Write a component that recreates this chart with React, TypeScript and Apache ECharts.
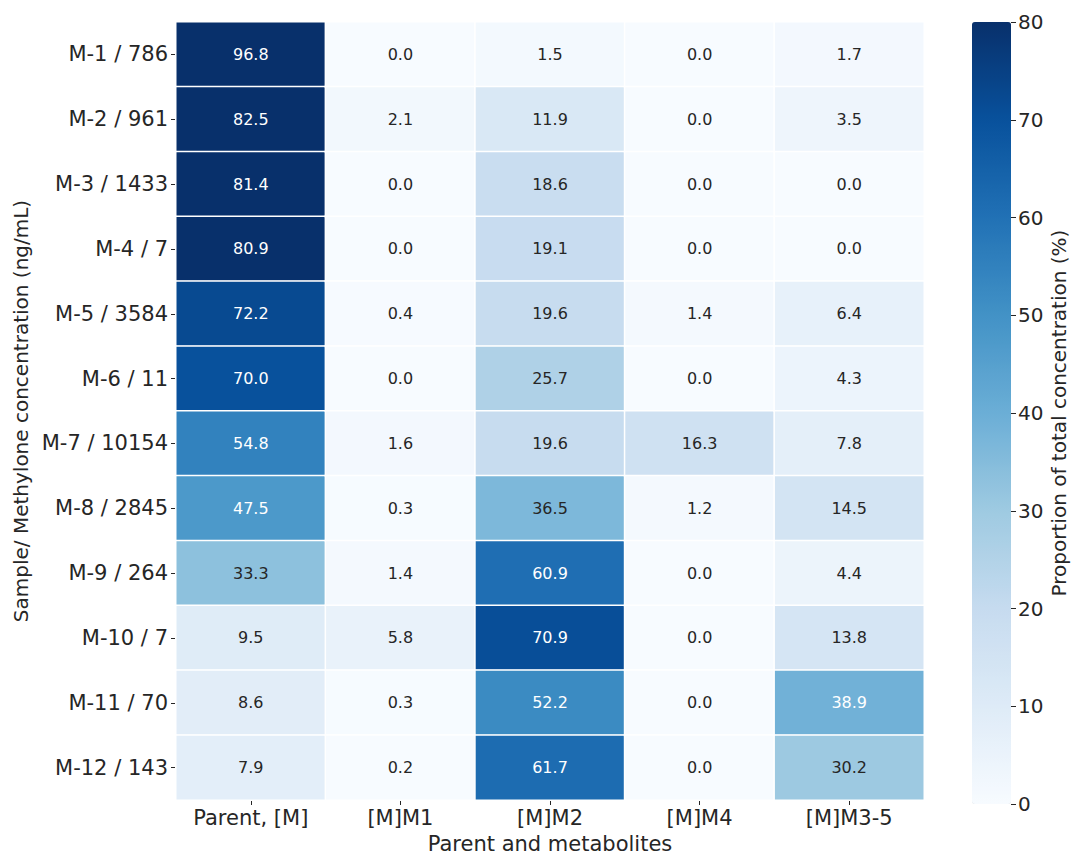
import React, { useEffect, useRef } from "react";
import * as echarts from "echarts";

const columns = ["Parent, [M]", "[M]M1", "[M]M2", "[M]M4", "[M]M3-5"];
const rows = [
  "M-1 / 786", "M-2 / 961", "M-3 / 1433", "M-4 / 7", "M-5 / 3584", "M-6 / 11",
  "M-7 / 10154", "M-8 / 2845", "M-9 / 264", "M-10 / 7", "M-11 / 70", "M-12 / 143",
];
const parentM = [96.8, 82.5, 81.4, 80.9, 72.2, 70.0, 54.8, 47.5, 33.3, 9.5, 8.6, 7.9];
const mM1 = [0.0, 2.1, 0.0, 0.0, 0.4, 0.0, 1.6, 0.3, 1.4, 5.8, 0.3, 0.2];
const mM2 = [1.5, 11.9, 18.6, 19.1, 19.6, 25.7, 19.6, 36.5, 60.9, 70.9, 52.2, 61.7];
const mM4 = [0.0, 0.0, 0.0, 0.0, 1.4, 0.0, 16.3, 1.2, 0.0, 0.0, 0.0, 0.0];
const mM35 = [1.7, 3.5, 0.0, 0.0, 6.4, 4.3, 7.8, 14.5, 4.4, 13.8, 38.9, 30.2];
const colorbarTicks = [0, 10, 20, 30, 40, 50, 60, 70, 80];

const seriesCols = [parentM, mM1, mM2, mM4, mM35];
const VMIN = 0;
const VMAX = 80;
const blues = ["#f7fbff", "#deebf7", "#c6dbef", "#9ecae1", "#6baed6", "#4292c6", "#2171b5", "#08519c", "#08306b"];
const FONT = "DejaVu Sans";
const TXT = "#262626";

export default function App() {
  const ref = useRef<HTMLDivElement>(null);
  useEffect(() => {
    document.body.style.margin = "0";
    const chart = echarts.init(ref.current!, undefined, { renderer: "svg" });
    const data: any[] = [];
    seriesCols.forEach((col, ci) => {
      col.forEach((v, ri) => {
        data.push({
          value: [ci, ri, Math.min(v, VMAX), v],
          label: { color: v > 37.5 ? "#ffffff" : TXT },
        });
      });
    });
    chart.setOption({
      animation: false,
      textStyle: { fontFamily: FONT },
      grid: [
        { left: 176, right: 148, top: 22, bottom: 55, containLabel: false },
        { left: 972, width: 39, top: 22, bottom: 55, containLabel: false },
      ],
      xAxis: [
        {
          type: "category",
          gridIndex: 0,
          data: columns,
          position: "bottom",
          splitArea: { show: false },
          axisLine: { show: false },
          axisTick: { show: true, alignWithLabel: true, interval: 0, length: 5, lineStyle: { color: TXT, width: 1 } },
          axisLabel: { color: TXT, fontSize: 21, fontFamily: FONT, margin: 7, interval: 0, hideOverlap: false },
          name: "Parent and metabolites",
          nameLocation: "middle",
          nameGap: 33,
          nameTextStyle: { color: TXT, fontSize: 21, fontFamily: FONT },
        },
        {
          type: "category",
          gridIndex: 1,
          data: [""],
          show: false,
        },
      ],
      yAxis: [
        {
          type: "category",
          gridIndex: 0,
          data: rows,
          inverse: true,
          axisLine: { show: false },
          axisTick: { show: true, alignWithLabel: true, interval: 0, length: 5, lineStyle: { color: TXT, width: 1 } },
          axisLabel: { color: TXT, fontSize: 21, fontFamily: FONT, margin: 8, interval: 0 },
          name: "Sample/ Methylone concentration (ng/mL)",
          nameLocation: "middle",
          nameRotate: 90,
          nameGap: 140,
          nameTextStyle: { color: TXT, fontSize: 20, fontFamily: FONT },
        },
        {
          type: "value",
          gridIndex: 1,
          min: colorbarTicks[0],
          max: colorbarTicks[colorbarTicks.length - 1],
          interval: 10,
          position: "right",
          splitLine: { show: false },
          axisLine: { show: false },
          axisTick: { show: true, length: 5, lineStyle: { color: TXT, width: 1 } },
          axisLabel: { color: TXT, fontSize: 20, fontFamily: FONT, margin: 7 },
          name: "Proportion of total concentration (%)",
          nameLocation: "middle",
          nameRotate: 90,
          nameGap: 38,
          nameTextStyle: { color: TXT, fontSize: 20, fontFamily: FONT, verticalAlign: "top" },
        },
      ],
      visualMap: {
        type: "continuous",
        min: VMIN,
        max: VMAX,
        dimension: 2,
        seriesIndex: 0,
        calculable: false,
        realtime: false,
        orient: "vertical",
        left: 972,
        top: 22,
        itemWidth: 39,
        itemHeight: 782,
        padding: 0,
        text: ["", ""],
        showLabel: false,
        inRange: { color: blues },
      },
      series: [
        {
          type: "heatmap",
          xAxisIndex: 0,
          yAxisIndex: 0,
          data,
          itemStyle: { borderColor: "#ffffff", borderWidth: 1.5 },
          label: {
            show: true,
            fontSize: 16,
            fontFamily: FONT,
            formatter: (p: any) => Number(p.value[3]).toFixed(1),
          },
          emphasis: { disabled: true },
        },
      ],
    });
    return () => chart.dispose();
  }, []);
  return <div ref={ref} style={{ width: 1072, height: 859 }} />;
}
